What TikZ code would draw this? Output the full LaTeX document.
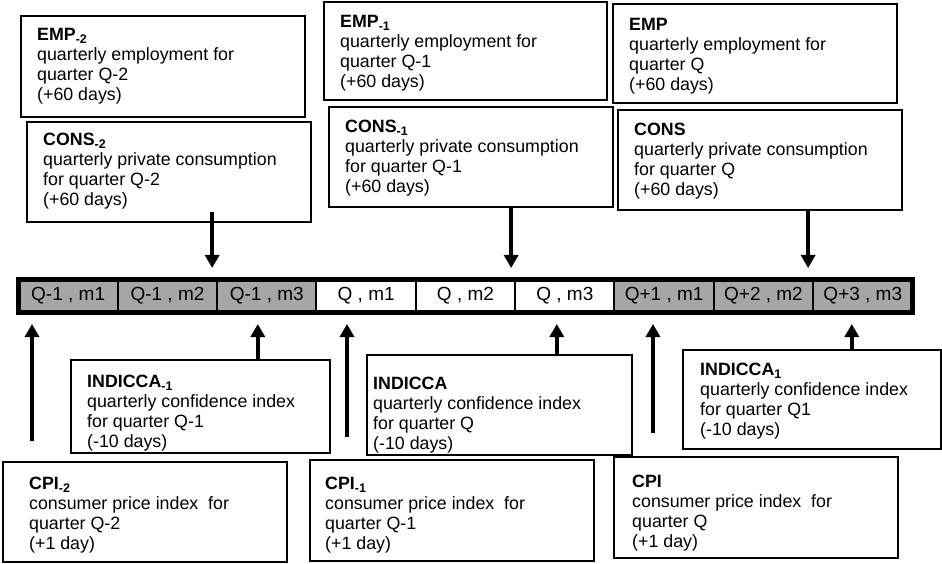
\documentclass[tikz,border=0pt]{standalone}
\usepackage{fontspec}
\setmainfont{Liberation Sans}
\usetikzlibrary{arrows.meta}
\definecolor{cellgray}{RGB}{166,166,166}

\tikzset{
	infobox/.style={draw, line width=2.5pt, anchor=north west, inner sep=0pt, outer sep=0pt},
	infotext/.style={anchor=north west, align=left, inner sep=0pt, font=\fontsize{17.8pt}{20pt}\selectfont},
	cell/.style={draw, line width=2pt, minimum width=\cw pt, minimum height=33pt, inner sep=0pt, outer sep=0pt, font=\fontsize{19pt}{20pt}\selectfont},
	arr/.style={line width=3.5pt, -{Triangle[length=13pt,width=14pt]}}
}

\begin{document}
\begin{tikzpicture}[x=1pt, y=1pt]
			\useasboundingbox (0,0) rectangle (942,563);
			\def\cw{99.33}
			
			% time line
			\foreach \i/\lab/\col in {1/{Q-1 , m1}/cellgray, 2/{Q-1 , m2}/cellgray, 3/{Q-1 , m3}/cellgray, 4/{Q , m1}/white, 5/{Q , m2}/white, 6/{Q , m3}/white, 7/{Q+1 , m1}/cellgray, 8/{Q+2 , m2}/cellgray, 9/{Q+3 , m3}/cellgray} {
				\node[cell, fill=\col] (c\i) at ({18.5+(\i-0.5)*\cw}, 267) {\lab};
			}
			\draw[line width=5pt] (c1.north west) rectangle (c9.south east);
			
			% released after the quarter
			\node[infobox, minimum width=284pt, minimum height=101pt] (emp2) at (21,547) {};
			\node[infotext] (emp2t) at ([shift={(16,-12)}]emp2.north west) {\textbf{EMP\textsubscript{-2}}\\quarterly employment for\\quarter Q-2\\(+60 days)};
			\node[infobox, minimum width=284pt, minimum height=100pt] (cons2) at (27,441) {};
			\node[infotext] (cons2t) at ([shift={(16,-11)}]cons2.north west) {\textbf{CONS\textsubscript{-2}}\\quarterly private consumption\\for quarter Q-2\\(+60 days)};
			\node[infobox, minimum width=283pt, minimum height=98pt] (emp1) at (324,561) {};
			\node[infotext] (emp1t) at ([shift={(16,-13)}]emp1.north west) {\textbf{EMP\textsubscript{-1}}\\quarterly employment for\\quarter Q-1\\(+60 days)};
			\node[infobox, minimum width=284pt, minimum height=100pt] (cons1) at (329,456) {};
			\node[infotext] (cons1t) at ([shift={(16,-13)}]cons1.north west) {\textbf{CONS\textsubscript{-1}}\\quarterly private consumption\\for quarter Q-1\\(+60 days)};
			\node[infobox, minimum width=284pt, minimum height=99pt] (emp) at (613,559) {};
			\node[infotext] (empt) at ([shift={(16,-14)}]emp.north west) {\textbf{EMP}\\quarterly employment for\\quarter Q\\(+60 days)};
			\node[infobox, minimum width=284pt, minimum height=100pt] (cons) at (618,453) {};
			\node[infotext] (const) at ([shift={(16,-13)}]cons.north west) {\textbf{CONS}\\quarterly private consumption\\for quarter Q\\(+60 days)};
			
			% released before or just after
			\node[infobox, minimum width=259pt, minimum height=93pt] (indiccam1) at (71,203) {};
			\node[infotext] (indiccam1t) at ([shift={(16,-15)}]indiccam1.north west) {\textbf{INDICCA\textsubscript{-1}}\\quarterly confidence index\\for quarter Q-1\\(-10 days)};
			\node[infobox, minimum width=265pt, minimum height=100pt] (indicca) at (367,208) {};
			\node[infotext] (indiccat) at ([shift={(6,-22)}]indicca.north west) {\textbf{INDICCA}\\quarterly confidence index\\for quarter Q\\(-10 days)};
			\node[infobox, minimum width=258pt, minimum height=99pt] (indicca1) at (683,213) {};
			\node[infotext] (indicca1t) at ([shift={(17,-13)}]indicca1.north west) {\textbf{INDICCA\textsubscript{1}}\\quarterly confidence index\\for quarter Q1\\(-10 days)};
			\node[infobox, minimum width=284pt, minimum height=100pt] (cpi2) at (3,101) {};
			\node[infotext] (cpi2t) at ([shift={(26,-15)}]cpi2.north west) {\textbf{CPI\textsubscript{-2}}\\consumer price index\ \ for\\quarter Q-2\\(+1 day)};
			\node[infobox, minimum width=284pt, minimum height=101pt] (cpi1) at (310,103) {};
			\node[infotext] (cpi1t) at ([shift={(15,-17)}]cpi1.north west) {\textbf{CPI\textsubscript{-1}}\\consumer price index\ \ for\\quarter Q-1\\(+1 day)};
			\node[infobox, minimum width=284pt, minimum height=101pt] (cpi) at (614,106) {};
			\node[infotext] (cpit) at ([shift={(18,-18)}]cpi.north west) {\textbf{CPI}\\consumer price index\ \ for\\quarter Q\\(+1 day)};
			
			\draw[arr] ([xshift=-5pt,yshift=10pt]c3.west |- cons2.south) -- ([xshift=-5pt,yshift=11.5pt]c3.north west);
			\draw[arr] ([xshift=-4pt]c6.west |- cons1.south) -- ([xshift=-4pt,yshift=11.5pt]c6.north west);
			\draw[arr] ([xshift=-5pt]c9.west |- cons.south) -- ([xshift=-5pt,yshift=11.5pt]c9.north west);
			
			\draw[arr] ([xshift=13.5pt,yshift=21pt]c1.west |- cpi2.north) -- ([xshift=13.5pt,yshift=-11.5pt]c1.south west);
			\draw[arr] ([xshift=-9pt]c3.south |- indiccam1.north) -- ([xshift=-9pt,yshift=-11.5pt]c3.south);
			\draw[arr] ([xshift=30.5pt,yshift=23pt]c4.west |- cpi1.north) -- ([xshift=30.5pt,yshift=-11.5pt]c4.south west);
			\draw[arr] ([xshift=-8pt]c6.south |- indicca.north) -- ([xshift=-8pt,yshift=-11.5pt]c6.south);
			\draw[arr] ([xshift=38.5pt,yshift=24pt]c7.west |- cpi.north) -- ([xshift=38.5pt,yshift=-11.5pt]c7.south west);
			\draw[arr] ([xshift=-11pt]c9.south |- indicca1.north) -- ([xshift=-11pt,yshift=-11.5pt]c9.south);
			
		\end{tikzpicture}
\end{document}
